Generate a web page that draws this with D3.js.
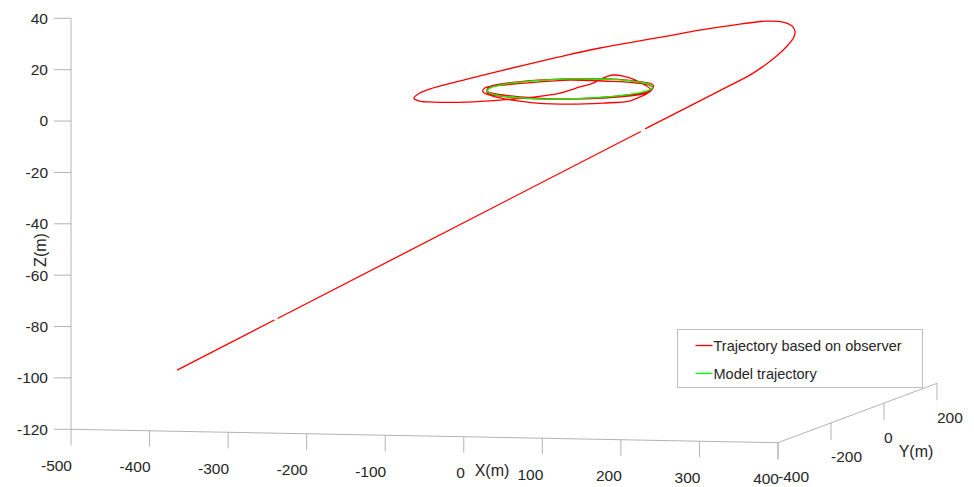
<!DOCTYPE html>
<html>
<head>
<meta charset="utf-8">
<script src="https://cdn.jsdelivr.net/npm/d3@7"></script>
<style>
  body { margin: 0; background: #fff; }
  text { font-family: "Liberation Sans", Arial, sans-serif; fill: #262626; }
</style>
</head>
<body>
<div id="chart"></div>
<script>

var xTicks = [-500, -400, -300, -200, -100, 0, 100, 200, 300, 400];
var yTicks = [-400, -200, 0, 200];
var zTicks = [-120, -100, -80, -60, -40, -20, 0, 20, 40];

// trajectory based on observer (null = gap in the record)
var obsX = [-397, -279, null, -275, 166, null, 171, 278,
  290, 301, 309, 309.5, 307.6, 297.6, 282, 266, 244, 216, 183, 155, 116, 79, 45, 13, -18, -48, -77, -85, -84, -76, -56, -24,
  2, 24, 35, 31, 26, 13, 12, 23, 45, 73, 98, 108, 111, 112, 86, 49, 6, -33, -62, -95, -106,
  -93, -62, -29, 15, 62, 94, 107, 101, 70, 33, -10, -61, -93,
  -104, -90, -52, 0, 51, 89, 103, 88, 51, 0, -51, -88, -102, -88, -51, 0];
var obsY = [-305, -288, null, -287.5, -224, null, -223, -208,
  -180, -155, -131, -94, -66, -32.5, 3, 15, 21, -23, -53, -92, -106, -120, -144, -178, -212, -245, -288, -314, -339, -342, -349, -318,
  -268, -209, -141, -54, 11, 96, 129, 133, 106, 60, 13, -26, -66, -106, -130, -146, -142, -118, -92, -46, -7,
  25, 60, 85, 82, 69, 33, -16, -47, -82, -98, -94, -71, -36,
  2, 52, 89, 103, 89, 51, 0, -51, -88, -102, -88, -51, 0, 51, 88, 101];
var obsZ = [-100, -80.5, null, -79.9, -7, null, -6, 11.6,
  14, 17, 20, 22.5, 24.5, 25.5, 26, 27, 27, 27, 26, 25, 23, 21, 19, 17, 15, 13, 11, 10, 9, 8, 8, 7,
  6, 5, 4, 3, 2, 1, 0.5, 0, 0, 0, 0, 0, 0, 0, 0, 0, 0, 0, 0, 0, 0,
  0, 0, 0, 0, 0, 0, 0, 0, 0, 0, 0, 0, 0,
  0, 0, 0, 0, 0, 0, 0, 0, 0, 0, 0, 0, 0, 0, 0, 0];

// model trajectory (closed orbit)
var modelX = [100, 96.6, 86.6, 70.7, 50, 25.9, 0, -25.9, -50, -70.7, -86.6, -96.6,
  -100, -96.6, -86.6, -70.7, -50, -25.9, 0, 25.9, 50, 70.7, 86.6, 96.6];
var modelY = [0, 25.9, 50, 70.7, 86.6, 96.6, 100, 96.6, 86.6, 70.7, 50, 25.9,
  0, -25.9, -50, -70.7, -86.6, -96.6, -100, -96.6, -86.6, -70.7, -50, -25.9];
var modelZ = [0, 0, 0, 0, 0, 0, 0, 0, 0, 0, 0, 0, 0, 0, 0, 0, 0, 0, 0, 0, 0, 0, 0, 0];

var seriesNames = ["Trajectory based on observer", "Model trajectory"];
var seriesColors = ["#ff0000", "#00ff00"];

var width = 974,
  height = 487,
  axisColor = "#b3b3b3";

var svg = d3.select("#chart")
  .append("svg")
  .attr("width", width)
  .attr("height", height)
  .style("background", "#fff");

// each axis scale returns a screen vector, summed to project a 3D point
var xScale = d3.scaleLinear().domain([-500, 400]).range([[71, 429.3], [778, 442.7]]);
var yScale = d3.scaleLinear().domain([-400, 200]).range([[0, 0], [159, -59.4]]);
var zScale = d3.scaleLinear().domain([-120, 40]).range([[0, 0], [0, -411]]);

function project(x, y, z) {
  var a = xScale(x), px = a[0], py = a[1];
  var b = yScale(y); px += b[0]; py += b[1];
  var c = zScale(z); px += c[0]; py += c[1];
  return [px, py];
}

function axisLine(p0, p1) {
  svg.append("line")
    .attr("x1", p0[0]).attr("y1", p0[1])
    .attr("x2", p1[0]).attr("y2", p1[1])
    .attr("stroke", axisColor)
    .attr("stroke-width", 1);
}

// axes
axisLine(project(-500, -400, -120), project(400, -400, -120));
axisLine(project(400, -400, -120), project(400, 200, -120));
axisLine(project(-500, -400, -120), project(-500, -400, 40));

xTicks.forEach(function(t) {
  var p = project(t, -400, -120);
  axisLine(p, [p[0], p[1] + 16]);
  svg.append("text")
    .attr("x", p[0] + 1).attr("y", p[1] + 36)
    .attr("dy", "0.35em")
    .attr("text-anchor", "end")
    .style("font-size", "15.5px")
    .text(t);
});

yTicks.forEach(function(t) {
  var p = project(400, t, -120);
  axisLine(p, [p[0], p[1] + 17]);
  svg.append("text")
    .attr("x", p[0]).attr("y", p[1] + 34)
    .attr("dy", "0.35em")
    .attr("text-anchor", "start")
    .style("font-size", "15.5px")
    .text(t);
});

zTicks.forEach(function(t) {
  var p = project(-500, -400, t);
  axisLine(p, [p[0] - 17, p[1]]);
  svg.append("text")
    .attr("x", p[0] - 23).attr("y", p[1])
    .attr("dy", "0.35em")
    .attr("text-anchor", "end")
    .style("font-size", "15.5px")
    .text(t);
});

svg.append("text").attr("x", 492).attr("y", 470).attr("dy", "0.35em")
  .attr("text-anchor", "middle").style("font-size", "16px").text("X(m)");
svg.append("text").attr("x", 916).attr("y", 451).attr("dy", "0.35em")
  .attr("text-anchor", "middle").style("font-size", "16px").text("Y(m)");
svg.append("text").attr("transform", "translate(40,250) rotate(-90)").attr("dy", "0.35em")
  .attr("text-anchor", "middle").style("font-size", "16px").text("Z(m)");

// trajectories
var obsPts = obsX.map(function(x, i) {
  return x == null ? null : project(x, obsY[i], obsZ[i]);
});
var modelPts = modelX.map(function(x, i) { return project(x, modelY[i], modelZ[i]); });

var line = d3.line()
  .defined(function(d) { return d != null; })
  .curve(d3.curveCatmullRom.alpha(0.5));

svg.append("path")
  .attr("d", line(obsPts))
  .attr("fill", "none")
  .attr("stroke", seriesColors[0])
  .attr("stroke-width", 1.3);

svg.append("path")
  .attr("d", line.curve(d3.curveCatmullRomClosed.alpha(0.5))(modelPts))
  .attr("fill", "none")
  .attr("stroke", seriesColors[1])
  .attr("stroke-width", 1.3);

// legend
var legend = svg.append("g").attr("transform", "translate(677.5,329.5)");
legend.append("rect")
  .attr("width", 245).attr("height", 58)
  .attr("fill", "#fff")
  .attr("stroke", "#bdbdbd");

var entry = legend.selectAll(".entry")
  .data(seriesNames)
  .enter()
  .append("g")
  .attr("class", "entry")
  .attr("transform", function(d, i) { return "translate(0," + (16 + i * 28) + ")"; });

entry.append("line")
  .attr("x1", 18).attr("x2", 35)
  .attr("stroke", function(d, i) { return seriesColors[i]; })
  .attr("stroke-width", 1.3);

entry.append("text")
  .attr("x", 36).attr("dy", "0.35em")
  .style("font-size", "14.5px")
  .text(function(d) { return d; });

</script>
</body>
</html>
